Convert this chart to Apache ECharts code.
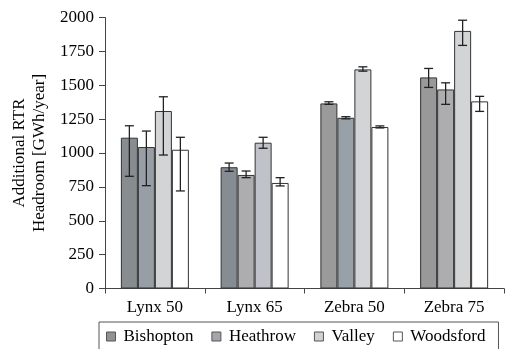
<!DOCTYPE html>
<html>
<head>
<meta charset="utf-8">
<script src="https://cdn.jsdelivr.net/npm/echarts@6/dist/echarts.min.js"></script>
<style>
html,body{margin:0;padding:0;background:#fff;}
#chart{width:506px;height:349px;}
</style>
</head>
<body>
<div id="chart"></div>
<script>
// ---- data ----
const categories = ['Lynx 50', 'Lynx 65', 'Zebra 50', 'Zebra 75'];
const seriesNames = ['Bishopton', 'Heathrow', 'Valley', 'Woodsford'];

const bishopton = [1113, 895, 1366, 1558];
const heathrow  = [1044, 838, 1260, 1469];
const valley    = [1310, 1076, 1617, 1901];
const woodsford = [1024, 779, 1192, 1381];

const bishoptonLow  = [828, 865, 1359, 1484];
const bishoptonHigh = [1201, 926, 1378, 1624];
const heathrowLow   = [759, 818, 1252, 1359];
const heathrowHigh  = [1162, 867, 1268, 1518];
const valleyLow     = [985, 1035, 1604, 1794];
const valleyHigh    = [1415, 1116, 1636, 1980];
const woodsfordLow  = [720, 757, 1185, 1307];
const woodsfordHigh = [1116, 818, 1200, 1418];

const yTicks = [0, 250, 500, 750, 1000, 1250, 1500, 1750, 2000];

// ---- styles ----
const seriesColors = ['#8f9296', '#a3a7ab', '#d0d1d4', '#ffffff'];
const itemColors = [
  ['#878c91', '#868c93', '#9a9a9a', '#999999'],
  ['#989ea5', '#adadaf', '#98a0a8', '#adadaf'],
  ['#d3d4d6', '#bfc2c9', '#d3d4d6', '#d3d4d6'],
  ['#ffffff', '#ffffff', '#ffffff', '#ffffff']
];
const BAR_W = 17;
const FONT = '"Liberation Serif", "Times New Roman", serif';

const values = [bishopton, heathrow, valley, woodsford];
const lows = [bishoptonLow, heathrowLow, valleyLow, woodsfordLow];
const highs = [bishoptonHigh, heathrowHigh, valleyHigh, woodsfordHigh];

const barSeries = seriesNames.map((name, s) => ({
  name: name,
  type: 'bar',
  barWidth: BAR_W,
  barGap: '0%',
  itemStyle: { color: seriesColors[s], borderColor: '#333', borderWidth: 1 },
  data: values[s].map((v, i) => ({ value: v, itemStyle: { color: itemColors[s][i] } })),
  z: 2
}));

const errSeries = seriesNames.map((name, s) => ({
  name: name + ' error',
  type: 'custom',
  z: 5,
  silent: true,
  data: categories.map((c, i) => [i, lows[s][i], highs[s][i]]),
  renderItem: function (params, api) {
    const x = api.value(0);
    const lo = api.coord([x, api.value(1)]);
    const hi = api.coord([x, api.value(2)]);
    const off = (s - 1.5) * BAR_W;
    const cx = lo[0] + off;
    const cap = 4.5;
    const st = { stroke: '#222', lineWidth: 1.3 };
    return {
      type: 'group',
      children: [
        { type: 'line', shape: { x1: cx, y1: hi[1], x2: cx, y2: lo[1] }, style: st },
        { type: 'line', shape: { x1: cx - cap, y1: hi[1], x2: cx + cap, y2: hi[1] }, style: st },
        { type: 'line', shape: { x1: cx - cap, y1: lo[1], x2: cx + cap, y2: lo[1] }, style: st }
      ]
    };
  }
}));

const chart = echarts.init(document.getElementById('chart'), null, { renderer: 'canvas' });
chart.setOption({
  animation: false,
  backgroundColor: '#fff',
  textStyle: { fontFamily: FONT },
  grid: { left: 105, right: 2, top: 17.5, bottom: 60.5, containLabel: false, outerBoundsMode: 'none' },
  legend: {
    data: seriesNames,
    left: 99,
    top: 322,
    orient: 'horizontal',
    itemWidth: 9,
    itemHeight: 9,
    itemGap: 18,
    icon: 'rect',
    padding: [6, 13, 8, 7],
    borderColor: '#555',
    borderWidth: 1,
    textStyle: { fontFamily: FONT, fontSize: 17, color: '#000', padding: [0, 0, 0, 3] },
    itemStyle: { borderColor: '#555', borderWidth: 1 }
  },
  xAxis: {
    type: 'category',
    data: categories,
    axisLine: { lineStyle: { color: '#444', width: 1 } },
    axisTick: { show: true, length: 5, lineStyle: { color: '#444' } },
    axisLabel: { fontFamily: FONT, fontSize: 17, color: '#000', margin: 11 }
  },
  yAxis: {
    type: 'value',
    min: 0,
    max: 2000,
    interval: 250,
    name: 'Additional RTR\nHeadroom [GWh/year]',
    nameLocation: 'middle',
    nameRotate: 90,
    nameGap: 55,
    nameTextStyle: { fontFamily: FONT, fontSize: 17, color: '#000', lineHeight: 20 },
    splitLine: { show: false },
    axisLine: { show: true, lineStyle: { color: '#444', width: 1 } },
    axisTick: { show: true, length: 6, lineStyle: { color: '#444' } },
    axisLabel: {
      fontFamily: FONT, fontSize: 17, color: '#000', margin: 11,
      formatter: v => (yTicks.indexOf(v) >= 0 ? String(v) : '')
    }
  },
  series: barSeries.concat(errSeries)
});
</script>
</body>
</html>
